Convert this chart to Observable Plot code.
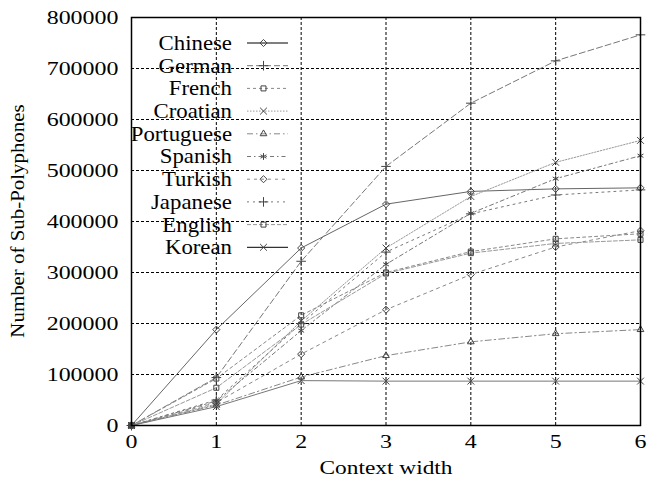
<!DOCTYPE html>
<html>
<head>
<meta charset="utf-8">
<script src="https://cdn.jsdelivr.net/npm/d3@7"></script>
<script src="https://cdn.jsdelivr.net/npm/@observablehq/plot@0.6"></script>
<style>
  html, body { margin: 0; padding: 0; background: #fff; }
</style>
</head>
<body>
<div id="chart"></div>
<script>
const contextWidth = [0, 1, 2, 3, 4, 5, 6];
const languages = ["Chinese", "German", "French", "Croatian", "Portuguese", "Spanish", "Turkish", "Japanese", "English", "Korean"];
const chinese    = [0, 188000, 348000, 434000, 459000, 464000, 466000];
const german     = [0,  94000, 322000, 508000, 632000, 715000, 766000];
const french     = [0,  92000, 216000, 300000, 341000, 366000, 376000];
const croatian   = [0,  42000, 205000, 348000, 449000, 516000, 559000];
const portuguese = [0,  40000,  95000, 137000, 164000, 180000, 188000];
const spanish    = [0,  48000, 186000, 316000, 416000, 484000, 529000];
const turkish    = [0,  45000, 140000, 227000, 296000, 350000, 382000];
const japanese   = [0,  50000, 200000, 340000, 415000, 452000, 462000];
const english    = [0,  74000, 198000, 298000, 338000, 357000, 364000];
const korean     = [0,  37000,  88000,  87000,  87000,  87000,  87000];
const seriesValues = [chinese, german, french, croatian, portuguese, spanish, turkish, japanese, english, korean];
const yTicks = [0, 100000, 200000, 300000, 400000, 500000, 600000, 700000, 800000];
const xTicks = [0, 1, 2, 3, 4, 5, 6];

const styles = {
  Chinese:    {dash: null,        color: "#666", symbol: "diamond2"},
  German:     {dash: "6,3",       color: "#777", symbol: "plus"},
  French:     {dash: "3,3",       color: "#888", symbol: "square2"},
  Croatian:   {dash: "1.5,1.5",   color: "#999", symbol: "times"},
  Portuguese: {dash: "6,3,1.5,3", color: "#888", symbol: "triangle2"},
  Spanish:    {dash: "4,3,1.5,3", color: "#777", symbol: "asterisk"},
  Turkish:    {dash: "3,4",       color: "#888", symbol: "diamond2"},
  Japanese:   {dash: "2,4",       color: "#777", symbol: "plus"},
  English:    {dash: "4,2",       color: "#999", symbol: "square2"},
  Korean:     {dash: null,        color: "#777", symbol: "times"}
};

const rows = [];
languages.forEach((lang, i) => {
  contextWidth.forEach((c, j) => rows.push({lang, x: c, y: seriesValues[i][j]}));
});

const marks = [
  Plot.ruleY(yTicks.slice(1, -1), {stroke: "#000", strokeWidth: 1, strokeDasharray: "3,2"}),
  Plot.ruleX(xTicks.slice(1, -1), {stroke: "#000", strokeWidth: 1, strokeDasharray: "3,2"})
];
languages.forEach(lang => {
  const s = styles[lang];
  const d = rows.filter(r => r.lang === lang);
  marks.push(Plot.line(d, {x: "x", y: "y", stroke: s.color, strokeWidth: 1, strokeDasharray: s.dash}));
  marks.push(Plot.dot(d, {x: "x", y: "y", symbol: () => s.symbol, r: 3.2, stroke: "#444", strokeWidth: 1, fill: "none"}));
});
marks.push(Plot.frame({stroke: "#000", strokeWidth: 1.5}));
marks.push(Plot.axisX(xTicks, {tickSize: 0, tickPadding: 9, fontSize: 19, label: null}));
marks.push(Plot.axisY(yTicks, {tickSize: 0, tickPadding: 13, fontSize: 19, label: null, tickFormat: d => String(d)}));

const plot = Plot.plot({
  width: 647,
  height: 479,
  marginLeft: 131,
  marginRight: 7,
  marginTop: 17,
  marginBottom: 54,
  style: {fontFamily: "'Liberation Serif', serif", fontSize: "19px", color: "#000", background: "#fff"},
  x: {domain: [0, 6]},
  y: {domain: [0, 800000]},
  symbol: {type: "identity"},
  marks
});

const svg = d3.select(plot);
svg.attr("font-family", "'Liberation Serif', serif");

function stretch(sel, s) {
  sel.each(function() {
    const x = parseFloat(this.getAttribute("x")) || 0;
    const t = this.getAttribute("transform") || "";
    this.setAttribute("transform", `${t} translate(${x},0) scale(${s},1) translate(${-x},0)`);
  });
}
stretch(svg.selectAll("text"), 1.26);

const xl = svg.append("text")
  .attr("x", 386).attr("y", 474)
  .attr("text-anchor", "middle")
  .attr("font-size", 19)
  .attr("fill", "#000")
  .text("Context width");
stretch(xl, 1.23);
const yl = svg.append("text")
  .attr("transform", "translate(24,221) rotate(-90)")
  .attr("text-anchor", "middle")
  .attr("font-size", 19)
  .attr("fill", "#000")
  .text("Number of Sub-Polyphones");
stretch(yl, 1.1);

// legend
const symGen = {
  diamond2: d3.symbolDiamond2, plus: d3.symbolPlus, square2: d3.symbolSquare2,
  times: d3.symbolTimes, triangle2: d3.symbolTriangle2, asterisk: d3.symbolAsterisk
};
const lg = svg.append("g");
languages.forEach((lang, i) => {
  const s = styles[lang];
  const y = 43 + i * 22.7;
  const t = lg.append("text").attr("x", 232).attr("y", y).attr("dy", "0.35em")
    .attr("text-anchor", "end").attr("font-size", 20).attr("fill", "#000").text(lang);
  stretch(t, 1.14);
  lg.append("line").attr("x1", 247).attr("x2", 288).attr("y1", y).attr("y2", y)
    .attr("stroke", s.dash ? s.color : "#000").attr("stroke-width", 1)
    .attr("stroke-dasharray", s.dash);
  lg.append("path").attr("transform", `translate(263.5,${y})`)
    .attr("d", d3.symbol(symGen[s.symbol], 32)())
    .attr("fill", "none").attr("stroke", "#444").attr("stroke-width", 1);
});

document.getElementById("chart").appendChild(plot);
</script>
</body>
</html>
